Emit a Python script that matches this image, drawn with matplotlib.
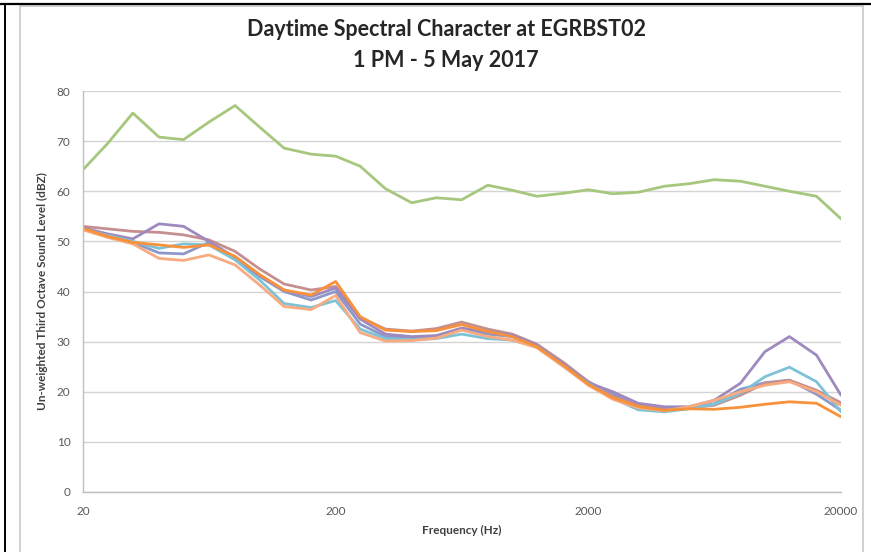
"""
Daytime spectral character at EGRBST02 - third octave levels, 1 PM 5 May 2017.
"""
import matplotlib
matplotlib.use("Agg")
import matplotlib.pyplot as plt
from matplotlib.lines import Line2D
from matplotlib.patches import Rectangle
from matplotlib.ticker import FixedLocator, NullLocator

# -----------------------------------------------------------------------------
# Data
# -----------------------------------------------------------------------------
freqs = [20, 25, 31.5, 40, 50, 63, 80, 100, 125, 160, 200, 250, 315, 400, 500,
         630, 800, 1000, 1250, 1600, 2000, 2500, 3150, 4000, 5000, 6300, 8000,
         10000, 12500, 16000, 20000]

green = [64.3, 69.5, 75.6, 70.8, 70.3, 73.8, 77.1, 72.8, 68.6, 67.4, 67.0,
         65.0, 60.5, 57.7, 58.7, 58.3, 61.2, 60.2, 59.0, 59.6, 60.3, 59.5,
         59.8, 61.0, 61.5, 62.3, 62.0, 61.0, 60.0, 59.0, 54.5]

purple = [52.7, 51.5, 50.5, 53.5, 53.0, 50.0, 46.8, 43.2, 40.3, 39.0, 40.7,
          34.5, 31.5, 31.0, 31.2, 32.7, 32.0, 31.3, 29.3, 25.5, 21.8, 20.0,
          17.7, 17.0, 17.0, 18.3, 21.7, 28.0, 31.0, 27.3, 19.3]

rose = [53.0, 52.5, 52.0, 51.8, 51.3, 50.3, 48.0, 44.5, 41.5, 40.3, 41.0,
        34.8, 32.5, 32.1, 32.6, 33.9, 32.5, 31.5, 29.5, 25.8, 22.0, 19.0,
        17.3, 16.5, 16.8, 17.3, 19.3, 21.7, 22.3, 20.3, 17.8]

orange = [52.6, 51.0, 49.8, 49.3, 48.8, 49.3, 47.0, 43.4, 40.3, 39.3, 42.0,
          35.0, 32.3, 32.0, 32.2, 33.4, 32.0, 31.0, 29.0, 25.2, 21.5, 18.8,
          17.1, 16.3, 16.6, 16.5, 16.9, 17.5, 18.0, 17.7, 15.0]

peach = [52.3, 50.8, 49.5, 46.6, 46.2, 47.3, 45.3, 41.3, 37.0, 36.4, 39.2,
         31.8, 30.1, 30.2, 30.7, 32.3, 31.0, 30.3, 28.8, 25.0, 21.3, 18.5,
         16.8, 16.2, 17.0, 18.3, 20.0, 21.3, 22.0, 20.0, 17.3]

aqua = [52.4, 51.2, 50.0, 48.6, 49.5, 49.3, 46.3, 42.3, 37.6, 36.8, 38.2,
        32.5, 30.6, 30.4, 30.6, 31.5, 30.6, 30.3, 29.0, 25.0, 21.6, 18.7,
        16.4, 16.0, 16.6, 17.5, 19.7, 23.0, 24.9, 22.0, 16.0]

lavender = [52.5, 51.0, 49.8, 47.7, 47.5, 49.8, 46.5, 43.0, 40.0, 38.3, 40.0,
            33.5, 31.0, 30.8, 31.0, 32.5, 31.5, 31.0, 29.2, 25.5, 22.0, 19.5,
            17.2, 16.5, 16.8, 17.6, 20.5, 21.8, 22.3, 19.5, 16.3]

series = [
    (lavender, "#8E97C9"),
    (rose, "#C58F8F"),
    (green, "#A6C77D"),
    (purple, "#9E8ABF"),
    (aqua, "#7DC2D6"),
    (peach, "#F8AB80"),
    (orange, "#F7913A"),
]

x_ticks = [20, 200, 2000, 20000]
y_ticks = list(range(0, 81, 10))

TITLE = "Daytime Spectral Character at EGRBST02\n1 PM - 5 May 2017"

# -----------------------------------------------------------------------------
# Figure
# -----------------------------------------------------------------------------
plt.rcParams["font.family"] = ["Lato", "DejaVu Sans"]

W, H = 871, 552
fig = plt.figure(figsize=(W / 100, H / 100), dpi=100)

# screenshot frame: black edges plus the light chart border
fig.add_artist(Line2D([0, 1], [1 - 4 / H, 1 - 4 / H], color="black", lw=1.6))
fig.add_artist(Line2D([5 / W, 5 / W], [0, 1 - 4 / H], color="black", lw=1.4))
fig.add_artist(Rectangle((20 / W, -0.05), (863 - 20) / W, 1.05 - 6 / H,
                         fill=False, edgecolor="#C8C8C8", lw=1.2))

ax = fig.add_axes([83 / W, (H - 492) / H, 758 / W, 401 / H])

for vals, col in series:
    ax.plot(freqs, vals, color=col, lw=2.0, solid_joinstyle="round",
            solid_capstyle="round")

ax.set_xscale("log")
ax.set_xlim(20, 20000)
ax.set_ylim(0, 80)

ax.xaxis.set_major_locator(FixedLocator(x_ticks))
ax.xaxis.set_minor_locator(NullLocator())
ax.set_xticklabels([str(t) for t in x_ticks])
ax.set_yticks(y_ticks)

ax.grid(axis="y", color="#D4D4D4", lw=1.0)
ax.set_axisbelow(True)

for side in ["top", "right"]:
    ax.spines[side].set_visible(False)
for side in ["left", "bottom"]:
    ax.spines[side].set_color("#BFBFBF")
    ax.spines[side].set_linewidth(1.0)

ax.tick_params(axis="both", length=0, labelsize=8.5, labelcolor="#595959")
ax.tick_params(axis="x", pad=10)
ax.tick_params(axis="y", pad=9)

ax.set_xlabel("Frequency (Hz)", fontsize=8.5, fontweight="bold", color="#404040",
              labelpad=6)
ax.set_ylabel("Un-weighted Third Octave Sound Level (dBZ)", fontsize=8.5,
              fontweight="bold", color="#404040", labelpad=6)

fig.text(446 / W, 1 - 45 / H, TITLE, ha="center", va="center", fontsize=15.5,
         fontweight="bold", color="#262626", linespacing=1.6)

fig.savefig("out.png", dpi=100)
